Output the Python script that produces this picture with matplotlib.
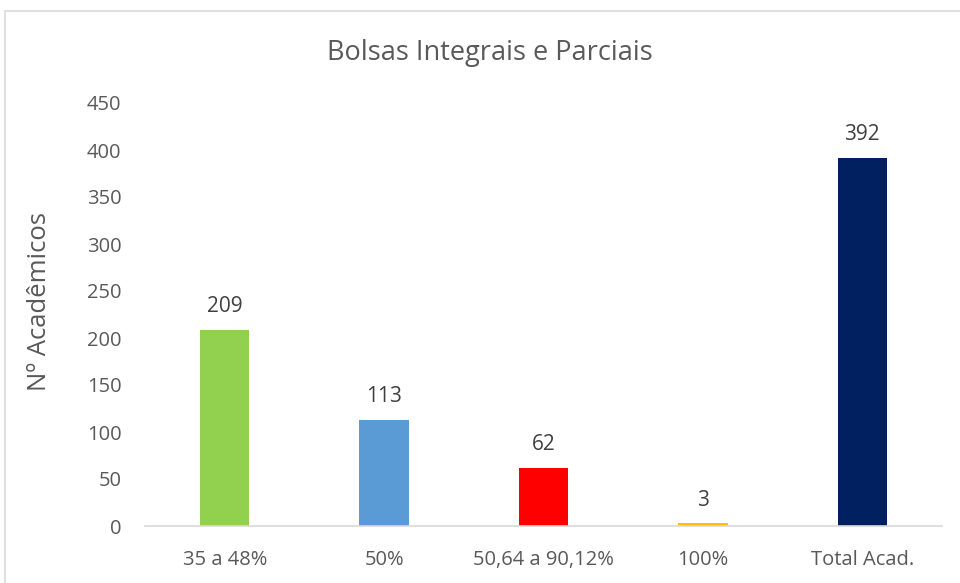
import matplotlib.pyplot as plt
from matplotlib.patches import Rectangle

categories = ['35 a 48%', '50%', '50,64 a 90,12%', '100%', 'Total Acad.']
values = [209, 113, 62, 3, 392]
colors = ['#92D050', '#5B9BD5', '#FF0000', '#FFC000', '#002060']
yticks = [0, 50, 100, 150, 200, 250, 300, 350, 400, 450]

plt.rcParams['font.family'] = ['Open Sans', 'DejaVu Sans']
text_color = '#595959'

fig = plt.figure(figsize=(9.6, 5.83), dpi=100)
# chart frame
fig.patches.append(Rectangle((5 / 960, -0.05), 1.0, 572 / 583 + 0.05,
                             transform=fig.transFigure, fill=False,
                             edgecolor='#D9D9D9', linewidth=1.2))

ax = fig.add_axes([145 / 960, 57 / 583, 797 / 960, 423 / 583])
x = range(len(categories))
bars = ax.bar(x, values, width=0.31, color=colors)

for xi, v in zip(x, values):
    ax.annotate(str(v), (xi, v), xytext=(0, 9), textcoords='offset points',
                ha='center', va='bottom', fontsize=15, color='#404040')

ax.set_xlim(-0.5, 4.5)
ax.set_ylim(0, 450)
ax.set_yticks(yticks)
ax.set_xticks(list(x))
ax.set_xticklabels(categories)
ax.tick_params(axis='both', length=0, labelsize=14.5, colors=text_color)
ax.tick_params(axis='x', pad=17)
ax.tick_params(axis='y', pad=17)

for s in ['top', 'right', 'left']:
    ax.spines[s].set_visible(False)
ax.spines['bottom'].set_color('#D9D9D9')
ax.spines['bottom'].set_linewidth(1.2)

ax.set_ylabel('Nº Acadêmicos', fontsize=18.5, color=text_color,
              va='center')
ax.yaxis.set_label_coords(-0.132, 0.53)
fig.text(490 / 960, 1 - 53 / 583, 'Bolsas Integrais e Parciais', ha='center',
         va='center', fontsize=19.5, color=text_color)

fig.savefig('out.png', dpi=100, facecolor='white')
